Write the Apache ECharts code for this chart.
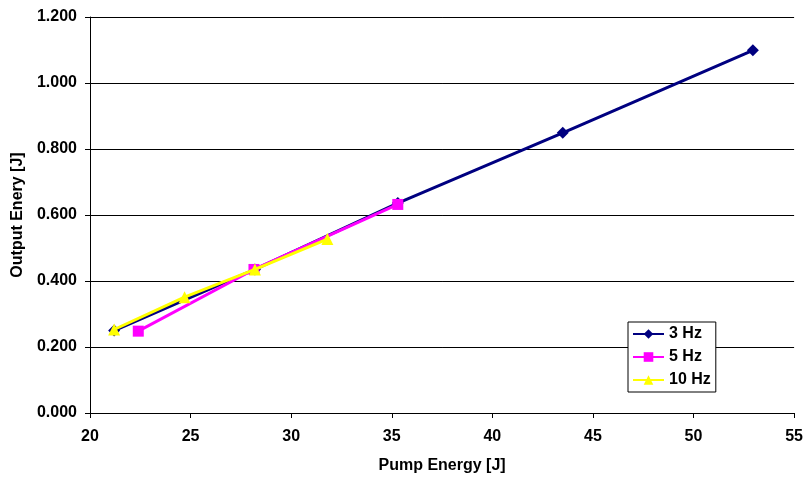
<!DOCTYPE html>
<html><head><meta charset="utf-8">
<script src="https://cdn.jsdelivr.net/npm/echarts@6/dist/echarts.min.js"></script>
<style>html,body{margin:0;padding:0;background:#fff}#c{width:806px;height:479px}</style>
</head><body><div id="c"></div>
<script>
const seriesNames = ['3 Hz', '5 Hz', '10 Hz'];
const hz3 = [[21.2, 0.250], [28.2, 0.435], [35.3, 0.636], [43.5, 0.849], [52.95, 1.099]];
const hz5 = [[22.4, 0.248], [28.15, 0.435], [35.3, 0.632]];
const hz10 = [[21.2, 0.253], [24.7, 0.351], [28.2, 0.435], [31.8, 0.527]];
const xTitle = 'Pump Energy [J]';
const yTitle = 'Output Enery [J]';

const font = 'Liberation Sans, Arial, sans-serif';
const chart = echarts.init(document.getElementById('c'), null, {renderer: 'canvas'});
chart.setOption({
  animation: false,
  backgroundColor: '#fff',
  grid: {left: 90, right: 10, top: 17, bottom: 66, containLabel: false},
  xAxis: {
    type: 'value', min: 20, max: 55, interval: 5,
    name: xTitle, nameLocation: 'middle', nameGap: 45,
    nameTextStyle: {fontFamily: font, fontWeight: 'bold', fontSize: 16, color: '#000'},
    axisLine: {show: true, lineStyle: {color: '#000', width: 1}},
    axisTick: {show: true, length: 5, lineStyle: {color: '#000'}},
    axisLabel: {fontFamily: font, fontWeight: 'bold', fontSize: 16, color: '#000', margin: 16},
    splitLine: {show: false}
  },
  yAxis: {
    type: 'value', min: 0, max: 1.2, interval: 0.2,
    name: yTitle, nameLocation: 'middle', nameGap: 64, nameRotate: 90,
    nameTextStyle: {fontFamily: font, fontWeight: 'bold', fontSize: 16, color: '#000'},
    axisLine: {show: true, lineStyle: {color: '#000', width: 1}},
    axisTick: {show: true, length: 5, lineStyle: {color: '#000'}},
    axisLabel: {fontFamily: font, fontWeight: 'bold', fontSize: 16, color: '#000', margin: 13,
      formatter: v => v.toFixed(3)},
    splitLine: {show: true, lineStyle: {color: '#000', width: 1}}
  },
  legend: {
    left: 628, top: 322, orient: 'vertical',
    data: seriesNames,
    itemWidth: 31, itemHeight: 12, itemGap: 7,
    padding: [4, 5, 4, 4],
    borderColor: '#000', borderWidth: 1, backgroundColor: '#fff',
    textStyle: {fontFamily: font, fontWeight: 'bold', fontSize: 16, color: '#000'}
  },
  series: [
    {name: seriesNames[0], type: 'line', data: hz3, z: 3,
     symbol: 'diamond', symbolSize: 12,
     itemStyle: {color: '#000080'}, lineStyle: {color: '#000080', width: 3}},
    {name: seriesNames[1], type: 'line', data: hz5, z: 4,
     symbol: 'rect', symbolSize: 11,
     itemStyle: {color: '#FF00FF'}, lineStyle: {color: '#FF00FF', width: 3}},
    {name: seriesNames[2], type: 'line', data: hz10, z: 5,
     symbol: 'triangle', symbolSize: 12,
     itemStyle: {color: '#FFFF00'}, lineStyle: {color: '#FFFF00', width: 3}}
  ]
});
</script></body></html>
